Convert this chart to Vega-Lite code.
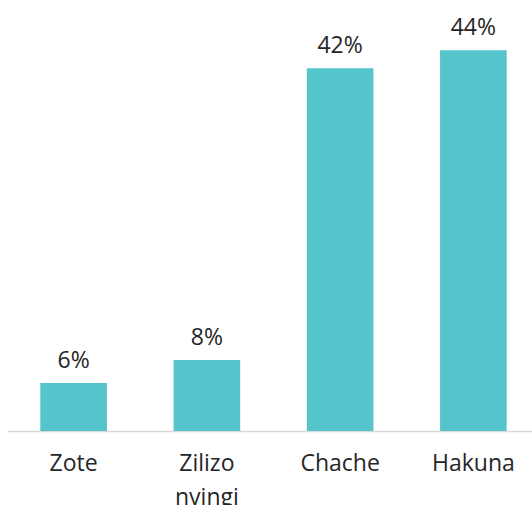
{
  "$schema": "https://vega.github.io/schema/vega-lite/v6.json",
  "width": 525,
  "height": 431,
  "autosize": {"type": "none"},
  "padding": {"left": 7, "top": 0, "right": 0, "bottom": 74},
  "background": "white",
  "config": {"view": {"stroke": null}, "font": "Open Sans"},
  "data": {
    "values": [
      {"category": "Zote", "share": 0.0555},
      {"category": "Zilizo nyingi", "share": 0.082},
      {"category": "Chache", "share": 0.419},
      {"category": "Hakuna", "share": 0.44}
    ]
  },
  "encoding": {
    "x": {
      "field": "category",
      "type": "nominal",
      "sort": null,
      "scale": {"range": [0, 533], "paddingInner": 0.5, "paddingOuter": 0.25},
      "axis": {
        "title": null,
        "labelAngle": 0,
        "ticks": false,
        "domainColor": "#d9d9d9",
        "domainWidth": 1.5,
        "labelFont": "Open Sans",
        "labelFontSize": 23,
        "labelColor": "#262626",
        "labelBaseline": "alphabetic",
        "labelPadding": 39,
        "labelLineHeight": 34,
        "labelExpr": "split(datum.label, ' ')"
      }
    },
    "y": {
      "field": "share",
      "type": "quantitative",
      "scale": {"domain": [0, 0.498], "nice": false},
      "axis": null
    }
  },
  "layer": [
    {"mark": {"type": "bar", "color": "#55C5CB"}},
    {
      "mark": {"type": "text", "baseline": "alphabetic", "dy": -15, "fontSize": 23, "color": "#262626", "font": "Open Sans"},
      "encoding": {"text": {"field": "share", "format": ".0%"}}
    }
  ]
}
